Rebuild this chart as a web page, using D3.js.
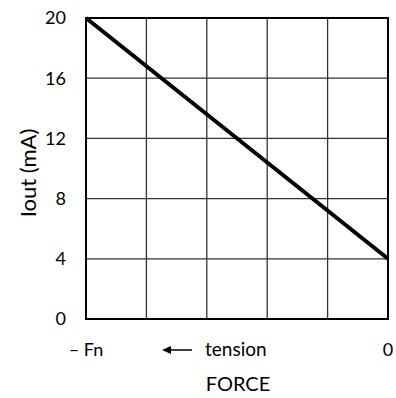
<!DOCTYPE html>
<meta charset="utf-8">
<style>
body { margin: 0; background: #fff; }
text { font-family: Lato, "Open Sans", sans-serif; fill: #000; }
</style>
<svg width="396" height="398"></svg>
<script src="https://cdn.jsdelivr.net/npm/d3@7"></script>
<script>

// force is in units of Fn (−1 = full tension, 0 = none)
var force = [-1, 0];
var iout = [20, 4];
var yTicks = [0, 4, 8, 12, 16, 20];
var xGrid = [-1, -0.8, -0.6, -0.4, -0.2, 0];
var xTickLabels = [{v: -1, t: "\u2013 Fn"}, {v: 0, t: "0"}];

var svg = d3.select("svg"),
    margin = {top: 18, right: 8, bottom: 79, left: 86},
    width = +svg.attr("width") - margin.left - margin.right,
    height = +svg.attr("height") - margin.top - margin.bottom,
    g = svg.append("g").attr("transform", "translate(" + margin.left + "," + margin.top + ")");

var x = d3.scaleLinear().domain([-1, 0]).range([0, width]);
var y = d3.scaleLinear().domain([0, 20]).range([height, 0]);

// grid
g.append("g").selectAll("line")
  .data(yTicks)
  .enter().append("line")
    .attr("x1", 0).attr("x2", width)
    .attr("y1", function(d) { return y(d); })
    .attr("y2", function(d) { return y(d); })
    .attr("stroke", "#333").attr("stroke-width", 1.3);

g.append("g").selectAll("line")
  .data(xGrid)
  .enter().append("line")
    .attr("y1", 0).attr("y2", height)
    .attr("x1", function(d) { return x(d); })
    .attr("x2", function(d) { return x(d); })
    .attr("stroke", "#333").attr("stroke-width", 1.3);

// frame
g.append("rect")
    .attr("width", width).attr("height", height)
    .attr("fill", "none").attr("stroke", "#000").attr("stroke-width", 2);

// y tick labels
g.append("g").selectAll("text")
  .data(yTicks)
  .enter().append("text")
    .attr("x", -20)
    .attr("y", function(d) { return y(d); })
    .attr("dy", "0.35em")
    .attr("text-anchor", "end")
    .style("font-size", "18px")
    .text(function(d) { return d; });

// x tick labels
g.append("g").selectAll("text")
  .data(xTickLabels)
  .enter().append("text")
    .attr("x", function(d) { return x(d.v); })
    .attr("y", height + 37)
    .attr("text-anchor", "middle")
    .style("font-size", "18px")
    .text(function(d) { return d.t; });

// arrow + tension
var ay = height + 31;
g.append("line")
    .attr("x1", 80).attr("x2", 106)
    .attr("y1", ay).attr("y2", ay)
    .attr("stroke", "#000").attr("stroke-width", 1.5);
g.append("path")
    .attr("d", "M76," + ay + "l9,-4l0,8z")
    .attr("fill", "#000");
g.append("text")
    .attr("x", 119).attr("y", height + 37)
    .style("font-size", "19px")
    .text("tension");

// axis titles
g.append("text")
    .attr("x", 152).attr("y", height + 72)
    .attr("text-anchor", "middle")
    .style("font-size", "20px")
    .text("FORCE");

svg.append("text")
    .attr("transform", "translate(36,173) rotate(-90)")
    .attr("text-anchor", "middle")
    .style("font-size", "22px")
    .text("Iout (mA)");

// line
var line = d3.line()
    .x(function(d) { return x(d[0]); })
    .y(function(d) { return y(d[1]); });

g.append("path")
    .datum(d3.zip(force, iout))
    .attr("d", line)
    .attr("fill", "none")
    .attr("stroke", "#000")
    .attr("stroke-width", 4);

</script>
